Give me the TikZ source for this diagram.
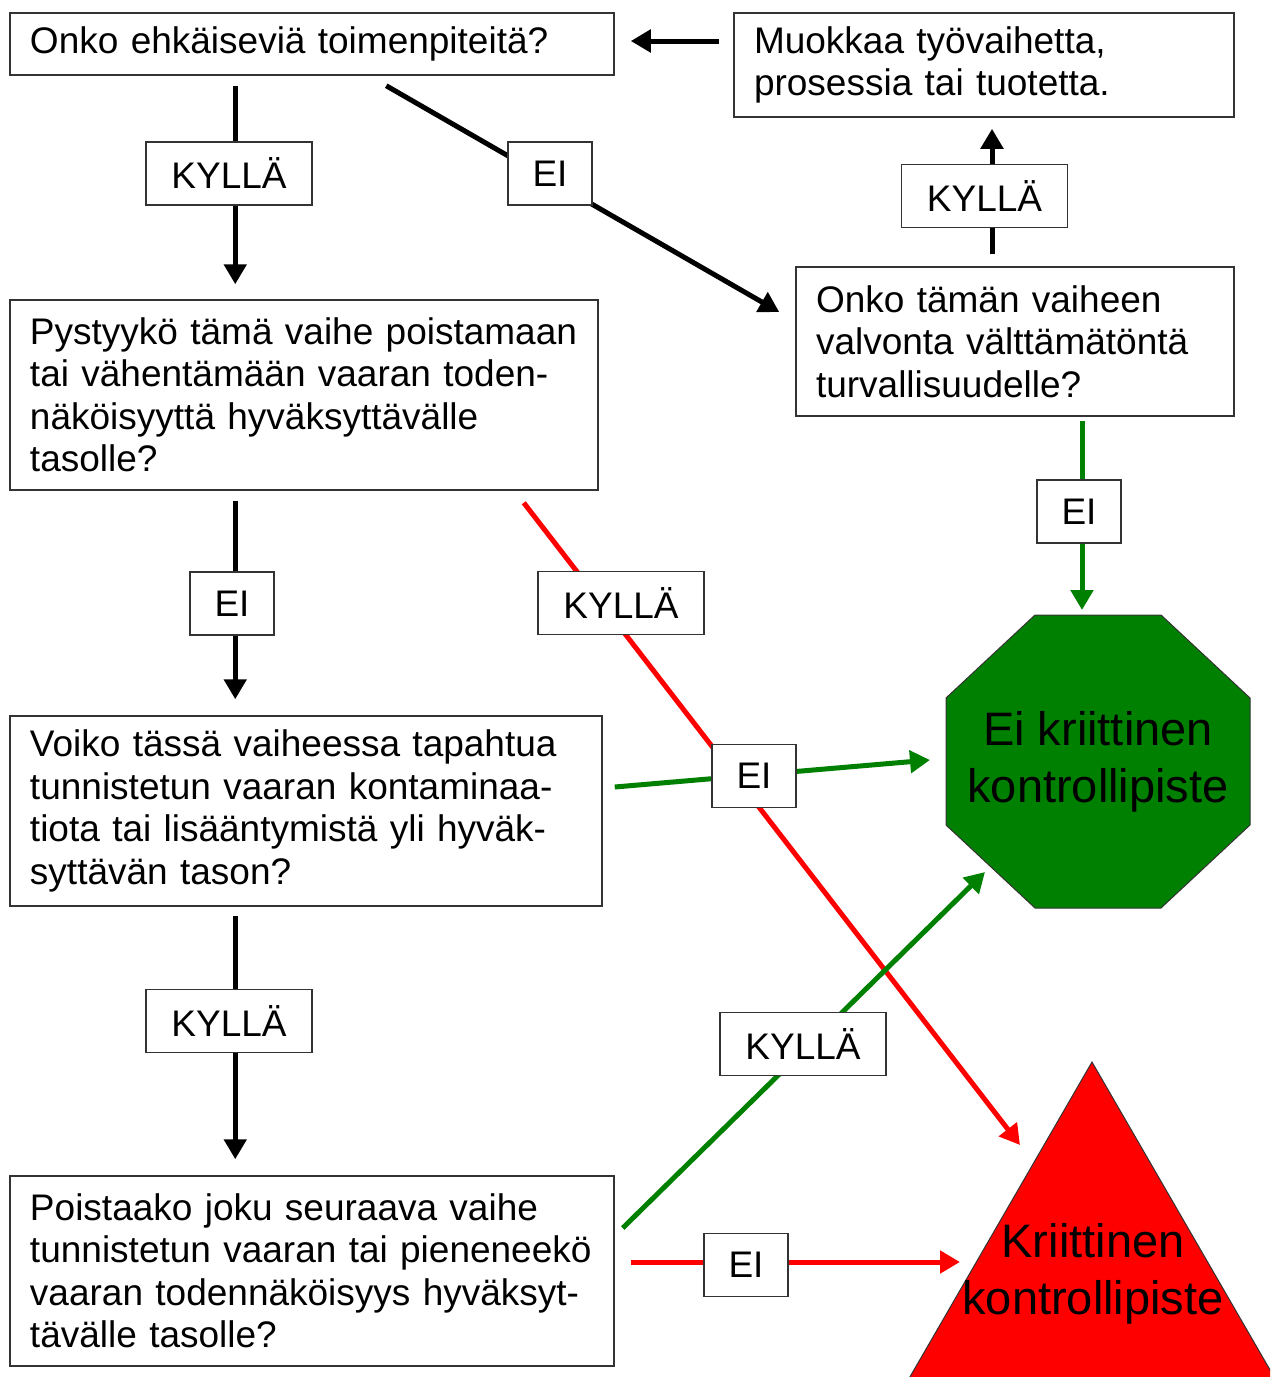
\documentclass[tikz,border=0pt]{standalone}
\usepackage{fontspec}
\setmainfont{Liberation Sans}
\usetikzlibrary{arrows.meta,calc}
\definecolor{dgreen}{RGB}{0,128,0}
\definecolor{bred}{RGB}{255,0,0}
\begin{document}
\begin{tikzpicture}[x=0.5pt,y=-0.5pt,
  qbox/.style={draw=black!80, line width=0.75pt, rectangle, align=left,
    inner xsep=10pt, inner ysep=0pt, font=\fontsize{18.5}{21.25}\selectfont},
  lbl/.style={draw=black!80, line width=0.75pt, fill=white, minimum height=31.5pt,
    inner sep=0pt, font=\fontsize{18.5}{21.25}\selectfont},
  kbox/.style={lbl, minimum width=83pt},
  ebox/.style={lbl, minimum width=42pt},
  bigtxt/.style={align=center, inner sep=0pt, font=\fontsize{23.5}{28.5}\selectfont},
  blk/.style={line width=2.5pt, -{Triangle[length=10pt,width=11pt]}},
  grn/.style={blk, draw=dgreen},
  rd/.style={blk, draw=bred}]
\useasboundingbox (0,0) rectangle (1270,1377);

% question boxes
\node[qbox, text width=282pt, minimum height=31pt] (b1) at (312,44)
  {\mbox{Onko ehkäiseviä toimenpiteitä?}};
\node[qbox, text width=230pt, minimum height=52pt] (b2) at (984,65)
  {\mbox{Muokkaa työvaihetta,}\\\mbox{prosessia tai tuotetta.}};
\node[qbox, text width=274pt, minimum height=95pt] (b3) at (304,395)
  {\mbox{Pystyykö tämä vaihe poistamaan}\\\mbox{tai vähentämään vaaran toden-}\\\mbox{näköisyyttä hyväksyttävälle}\\\mbox{tasolle?}};
\node[qbox, text width=199pt, minimum height=74.5pt] (b4) at (1015,341.5)
  {\mbox{Onko tämän vaiheen}\\\mbox{valvonta välttämätöntä}\\\mbox{turvallisuudelle?}};
\node[qbox, text width=276pt, minimum height=95pt] (b5) at (306,811)
  {\mbox{Voiko tässä vaiheessa tapahtua}\\\mbox{tunnistetun vaaran kontaminaa-}\\\mbox{tiota tai lisääntymistä yli hyväk-}\\\mbox{syttävän tason?}};
\node[qbox, text width=282pt, minimum height=95pt] (b6) at (312,1271)
  {\mbox{Poistaako joku seuraava vaihe}\\\mbox{tunnistetun vaaran tai pieneneekö}\\\mbox{vaaran todennäköisyys hyväksyt-}\\\mbox{tävälle tasolle?}};

% green octagon
\draw[fill=dgreen, draw=black!80, line width=0.5pt]
  (1035,615) -- (1161,615) -- (1250,698) -- (1250,825) -- (1161,908)
  -- (1035,908) -- (946,825) -- (946,698) -- cycle;
\node[bigtxt] (oct) at (1098,761.5) {Ei kriittinen\\kontrollipiste};

% red triangle
\begin{scope}
\clip (0,0) rectangle (1270,1377);
\draw[fill=bred, draw=black!80, line width=0.5pt]
  (1092,1062) -- (885,1420) -- (1299,1420) -- cycle;
\end{scope}
\coordinate (apex) at (1092,1062);
\node[bigtxt] (krit) at (1093,1274) {Kriittinen\\kontrollipiste};

% connectors
\draw[blk] ($(b1.south west)+(226,10)$) -- ($(b3.north west)+(226,-15)$);
\draw[blk] ($(b1.south west)+(377,10)$) -- ($(b4.west)+(-16,-29.5)$);
\draw[blk] ($(b2.west)+(-14,-24)$) -- ($(b1.east)+(16,-3)$);
\draw[blk] ($(b4.north)+(-23,-12)$) -- ($(b2.south)+(8,11)$);
\draw[grn] ($(b4.south)+(67,4)$) -- ($(oct.center)+(-16,-151.5)$);
\draw[blk] ($(b3.south west)+(226,10)$) -- ($(b5.north west)+(226,-16)$);
\draw[rd] ($(b3.south east)+(-75,12)$) -- ($(apex)+(-72,83)$);
\draw[grn] ($(b5.east)+(12,-24)$) -- ($(oct.center)+(-168,-1.5)$);
\draw[blk] ($(b5.south west)+(226,9)$) -- ($(b6.north west)+(226,-16)$);
\draw[grn] ($(b6.east)+(8,-43)$) -- ($(oct.center)+(-113,110.5)$);
\draw[rd] ($(b6.east)+(16,-9)$) -- ($(apex)+(-132,200)$);

% labels
\node[kbox] (l1) at (229,173.5) {KYLLÄ};
\node[ebox] (l2) at (550,173.5) {EI};
\node[kbox] (l3) at (984.5,196) {KYLLÄ};
\node[ebox] (l4) at (1079,511.5) {EI};
\node[ebox] (l5) at (232,603.5) {EI};
\node[kbox] (l6) at (621,603) {KYLLÄ};
\node[ebox] (l7) at (754,776) {EI};
\node[kbox] (l8) at (229,1021) {KYLLÄ};
\node[kbox] (l9) at (803,1044) {KYLLÄ};
\node[ebox] (l10) at (746,1265) {EI};
\end{tikzpicture}
\end{document}
